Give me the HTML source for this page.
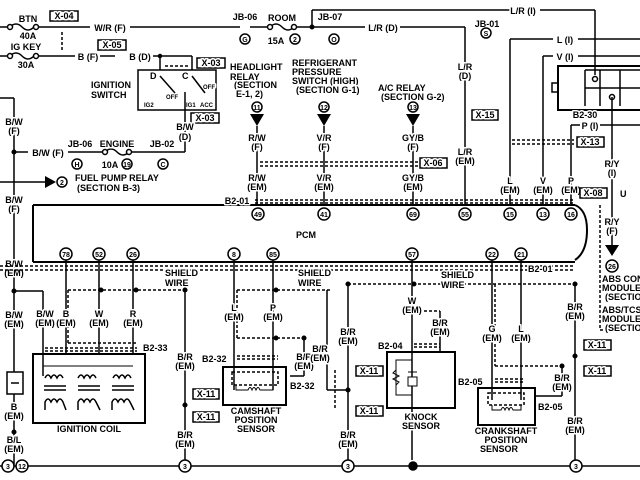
<!DOCTYPE html>
<html><head><meta charset="utf-8"><style>
html,body{margin:0;padding:0;background:#fff;width:640px;height:480px;overflow:hidden}
svg{display:block}
text{font-family:"Liberation Sans",sans-serif;font-size:9px;fill:#000;font-weight:bold;paint-order:stroke;stroke:#fff;stroke-width:3px;stroke-linejoin:round}
text[style*="font-size:7px"]{stroke:none}
.c{text-anchor:middle}
line,path,rect,circle,polyline{stroke:#000;fill:none;stroke-width:1.5}
.d{stroke-dasharray:3,2}
.f{fill:#000}
.w{fill:#fff}
</style></head><body>
<svg width="640" height="480" viewBox="0 0 640 480">
<line x1="0" y1="27" x2="10" y2="27"/><path d="M10 27 q6 -6 12 0 q6 6 12 0"/><circle cx="10" cy="27" r="2.5" class="w"/><circle cx="36" cy="27" r="2.5" class="w"/>
<line x1="38" y1="27" x2="90" y2="27"/><line x1="130" y1="27" x2="240" y2="27"/>
<text x="28" y="22" class="c">BTN</text><text x="28" y="39" class="c">40A</text>
<rect x="50" y="11" width="28" height="10"/><text x="64" y="19" class="c">X-04</text>
<text x="110" y="31" class="c">W/R (F)</text>
<line x1="62" y1="32" x2="62" y2="52" class="d"/>
<line x1="0" y1="56" x2="10" y2="56"/><path d="M10 56 q6 -6 12 0 q6 6 12 0"/><circle cx="10" cy="56" r="2.5" class="w"/><circle cx="36" cy="56" r="2.5" class="w"/>
<line x1="38" y1="56" x2="75" y2="56"/><text x="26" y="50" class="c">IG KEY</text><text x="26" y="68" class="c">30A</text>
<text x="88" y="60" class="c">B (F)</text><line x1="100" y1="56" x2="115" y2="56"/>
<rect x="98" y="40" width="28" height="10"/><text x="112" y="48" class="c">X-05</text>
<text x="140" y="60" class="c">B (D)</text><line x1="153" y1="56" x2="160" y2="56"/><circle cx="160" cy="56" r="1.5" class="f"/>
<line x1="160" y1="56" x2="160" y2="70"/><line x1="160" y1="56" x2="192" y2="56"/><line x1="192" y1="56" x2="192" y2="70"/>
<line x1="165" y1="66" x2="190" y2="66" class="d"/>
<rect x="197" y="58" width="28" height="10"/><text x="211" y="66" class="c">X-03</text>
<rect x="138" y="70" width="78" height="40"/>
<text x="150" y="79">D</text><text x="182" y="79">C</text><text x="91" y="88">IGNITION</text><text x="91" y="98">SWITCH</text>
<text x="166" y="99" style="font-size:6px">OFF</text><text x="203" y="89" style="font-size:6px">OFF</text>
<text x="144" y="107" style="font-size:6px">IG2</text><text x="186" y="107" style="font-size:6px">IG1</text><text x="200" y="107" style="font-size:6px">ACC</text>
<line x1="160" y1="76" x2="175" y2="93"/><line x1="192" y1="76" x2="205" y2="93"/><line x1="185" y1="92" x2="185" y2="110"/>
<line x1="185" y1="110" x2="185" y2="152"/><line x1="185" y1="152" x2="163" y2="152"/>
<rect x="191" y="113" width="28" height="10"/><text x="205" y="121" class="c">X-03</text>
<text x="185" y="130" class="c">B/W</text><text x="185" y="140" class="c">(D)</text>
<line x1="14" y1="152" x2="28" y2="152"/><text x="48" y="156" class="c">B/W (F)</text>
<line x1="68" y1="152" x2="105" y2="152"/><path d="M105 152 q6 -6 12 0 q6 6 12 0"/><circle cx="105" cy="152" r="2.5" class="w"/><circle cx="129" cy="152" r="2.5" class="w"/>
<line x1="131" y1="152" x2="163" y2="152"/>
<text x="80" y="147" class="c">JB-06</text><text x="117" y="147" class="c">ENGINE</text><text x="162" y="147" class="c">JB-02</text>
<circle cx="77" cy="164" r="5"/><text x="77" y="167" class="c" style="font-size:7px">H</text>
<text x="110" y="168" class="c">10A</text><circle cx="127" cy="164" r="5"/><text x="127" y="167" class="c" style="font-size:7px">19</text>
<circle cx="163" cy="164" r="5"/><text x="163" y="167" class="c" style="font-size:7px">C</text>
<line x1="0" y1="98" x2="14" y2="98"/><line x1="14" y1="98" x2="14" y2="466"/><circle cx="14" cy="152" r="1.8" class="f"/>
<text x="14" y="125" class="c">B/W</text><text x="14" y="134" class="c">(F)</text>
<text x="14" y="203" class="c">B/W</text><text x="14" y="212" class="c">(F)</text>
<line x1="0" y1="182" x2="45" y2="182"/><polygon points="45,176 56,182 45,188" class="f"/>
<circle cx="62" cy="182" r="5"/><text x="62" y="185" class="c" style="font-size:7px">2</text>
<text x="75" y="181">FUEL PUMP RELAY</text><text x="77" y="191">(SECTION B-3)</text>
<text x="14" y="267" class="c">B/W</text><text x="14" y="276" class="c">(EM)</text>
<line x1="14" y1="291" x2="43" y2="291"/><line x1="43" y1="291" x2="43" y2="365"/><circle cx="14" cy="291" r="1.8" class="f"/>
<text x="14" y="318" class="c">B/W</text><text x="14" y="327" class="c">(EM)</text>
<rect x="7" y="372" width="16" height="22" class="w"/><line x1="11" y1="383" x2="19" y2="383"/>
<text x="14" y="410" class="c">B</text><text x="14" y="419" class="c">(EM)</text>
<circle cx="14" cy="432" r="1.8" class="f"/>
<text x="14" y="443" class="c">B/L</text><text x="14" y="452" class="c">(EM)</text>
<line x1="0" y1="466" x2="640" y2="466"/>
<circle cx="8" cy="466" r="6" class="w"/><text x="8" y="469" class="c" style="font-size:7px">3</text>
<circle cx="22" cy="466" r="6" class="w"/><text x="22" y="469" class="c" style="font-size:7px">12</text>
<circle cx="185" cy="466" r="6" class="w"/><text x="185" y="469" class="c" style="font-size:7px">3</text>
<circle cx="348" cy="466" r="6" class="w"/><text x="348" y="469" class="c" style="font-size:7px">3</text>
<circle cx="413" cy="466" r="4" class="f"/>
<circle cx="576" cy="466" r="6" class="w"/><text x="576" y="469" class="c" style="font-size:7px">3</text>
<text x="245" y="20" class="c">JB-06</text><circle cx="245" cy="39" r="5"/><text x="245" y="42" class="c" style="font-size:7px">G</text>
<line x1="250" y1="27" x2="270" y2="27"/><path d="M270 27 q6 -6 12 0 q6 6 12 0"/><circle cx="270" cy="27" r="2.5" class="w"/><circle cx="294" cy="27" r="2.5" class="w"/>
<text x="282" y="21" class="c">ROOM</text><text x="276" y="44" class="c">15A</text><circle cx="295" cy="39" r="5"/><text x="295" y="42" class="c" style="font-size:7px">2</text>
<line x1="296" y1="27" x2="312" y2="27"/><line x1="312" y1="10" x2="312" y2="27"/><line x1="312" y1="10" x2="325" y2="10"/><circle cx="312" cy="27" r="1.8" class="f"/>
<line x1="312" y1="27" x2="365" y2="27"/><text x="330" y="20" class="c">JB-07</text><circle cx="334" cy="39" r="5"/><text x="334" y="42" class="c" style="font-size:7px">O</text>
<text x="383" y="31" class="c">L/R (D)</text><line x1="400" y1="27" x2="465" y2="27"/><line x1="465" y1="27" x2="465" y2="205"/>
<line x1="325" y1="10" x2="510" y2="10"/><text x="523" y="14" class="c">L/R (I)</text><line x1="540" y1="10" x2="595" y2="10"/><line x1="595" y1="10" x2="595" y2="75"/>
<text x="487" y="27" class="c">JB-01</text><circle cx="486" cy="33" r="5"/><text x="486" y="36" class="c" style="font-size:7px">S</text>
<text x="465" y="70" class="c">L/R</text><text x="465" y="79" class="c">(D)</text>
<rect x="472" y="110" width="26" height="10"/><text x="485" y="118" class="c">X-15</text>
<text x="465" y="155" class="c">L/R</text><text x="465" y="164" class="c">(EM)</text>
<text x="230" y="70">HEADLIGHT</text><text x="230" y="80">RELAY</text><text x="234" y="88">(SECTION</text><text x="236" y="97">E-1, 2)</text>
<text x="292" y="66">REFRIGERANT</text><text x="292" y="75">PRESSURE</text><text x="292" y="84">SWITCH (HIGH)</text><text x="296" y="93">(SECTION G-1)</text>
<text x="378" y="91">A/C RELAY</text><text x="381" y="100">(SECTION G-2)</text>
<circle cx="257" cy="107" r="5"/><text x="257" y="110" class="c" style="font-size:7px">11</text><polygon points="250,114 264,114 257,126" class="f"/><line x1="257" y1="126" x2="257" y2="205"/>
<circle cx="324" cy="107" r="5"/><text x="324" y="110" class="c" style="font-size:7px">12</text><polygon points="317,114 331,114 324,126" class="f"/><line x1="324" y1="126" x2="324" y2="205"/>
<circle cx="413" cy="107" r="5"/><text x="413" y="110" class="c" style="font-size:7px">13</text><polygon points="406,114 420,114 413,126" class="f"/><line x1="413" y1="126" x2="413" y2="205"/>
<line x1="260" y1="162" x2="418" y2="162" class="d"/><line x1="260" y1="166" x2="418" y2="166" class="d"/>
<text x="257" y="141" class="c">R/W</text><text x="257" y="150" class="c">(F)</text><text x="257" y="181" class="c">R/W</text><text x="257" y="190" class="c">(EM)</text>
<text x="324" y="141" class="c">V/R</text><text x="324" y="150" class="c">(F)</text><text x="324" y="181" class="c">V/R</text><text x="324" y="190" class="c">(EM)</text>
<text x="413" y="141" class="c">GY/B</text><text x="413" y="150" class="c">(F)</text><text x="413" y="181" class="c">GY/B</text><text x="413" y="190" class="c">(EM)</text>
<rect x="420" y="158" width="27" height="10" class="w"/><text x="433" y="166" class="c">X-06</text>
<line x1="510" y1="39" x2="553" y2="39"/><line x1="510" y1="39" x2="510" y2="205"/><text x="565" y="43" class="c">L (I)</text><line x1="578" y1="39" x2="640" y2="39"/>
<line x1="543" y1="56" x2="553" y2="56"/><line x1="543" y1="56" x2="543" y2="205"/><text x="565" y="60" class="c">V (I)</text><line x1="578" y1="56" x2="640" y2="56"/>
<rect x="558" y="66" width="90" height="44" style="stroke-width:2"/><line x1="585" y1="70" x2="640" y2="70"/><line x1="585" y1="70" x2="585" y2="106"/><line x1="585" y1="88" x2="640" y2="88"/>
<line x1="600" y1="70" x2="600" y2="106"/><line x1="620" y1="70" x2="620" y2="106"/><rect x="552" y="83" width="6" height="9"/>
<circle cx="595" cy="79" r="2.5"/><circle cx="612" cy="97" r="2.5"/><line x1="612" y1="97" x2="612" y2="245"/>
<text x="585" y="118" class="c">B2-30</text>
<line x1="571" y1="125" x2="580" y2="125"/><line x1="571" y1="125" x2="571" y2="205"/><text x="590" y="129" class="c">P (I)</text><line x1="600" y1="125" x2="640" y2="125"/>
<line x1="512" y1="140" x2="574" y2="140" class="d"/><line x1="512" y1="144" x2="574" y2="144" class="d"/>
<rect x="577" y="137" width="27" height="10" class="w"/><text x="590" y="145" class="c">X-13</text>
<text x="510" y="184" class="c">L</text><text x="510" y="193" class="c">(EM)</text>
<text x="543" y="184" class="c">V</text><text x="543" y="193" class="c">(EM)</text>
<text x="571" y="184" class="c">P</text><text x="571" y="193" class="c">(EM)</text>
<rect x="580" y="188" width="27" height="10" class="w"/><text x="593" y="196" class="c">X-08</text><text x="620" y="197">U</text>
<text x="612" y="167" class="c">R/Y</text><text x="612" y="176" class="c">(I)</text>
<text x="612" y="225" class="c">R/Y</text><text x="612" y="234" class="c">(F)</text>
<path d="M600 205 L600 330 L640 330" class="d"/>
<polygon points="605,245 619,245 612,256" class="f"/><circle cx="612" cy="266" r="6"/><text x="612" y="269" class="c" style="font-size:7px">26</text>
<text x="602" y="282">ABS CON</text><text x="602" y="291">MODULE</text><text x="605" y="300">(SECTIO</text>
<text x="602" y="313">ABS/TCS</text><text x="602" y="322">MODULE</text><text x="605" y="331">(SECTIO</text>
<line x1="33" y1="205" x2="575" y2="205" style="stroke-width:2"/><line x1="33" y1="205" x2="33" y2="262" style="stroke-width:2"/><line x1="33" y1="262" x2="575" y2="262" style="stroke-width:2"/>
<path d="M575 205 q12 5 12 25 q0 22 -12 30" style="stroke-width:2"/>
<line x1="255" y1="200" x2="575" y2="200" class="d"/><line x1="255" y1="203" x2="575" y2="203" class="d"/>
<text x="237" y="204" class="c">B2-01</text><text x="306" y="238" class="c">PCM</text>
<circle cx="258" cy="214" r="6"/><text x="258" y="217" class="c" style="font-size:7px">49</text>
<circle cx="324" cy="214" r="6"/><text x="324" y="217" class="c" style="font-size:7px">41</text>
<circle cx="413" cy="214" r="6"/><text x="413" y="217" class="c" style="font-size:7px">69</text>
<circle cx="465" cy="214" r="6"/><text x="465" y="217" class="c" style="font-size:7px">55</text>
<circle cx="510" cy="214" r="6"/><text x="510" y="217" class="c" style="font-size:7px">15</text>
<circle cx="543" cy="214" r="6"/><text x="543" y="217" class="c" style="font-size:7px">13</text>
<circle cx="571" cy="214" r="6"/><text x="571" y="217" class="c" style="font-size:7px">16</text>
<circle cx="66" cy="254" r="6"/><text x="66" y="257" class="c" style="font-size:7px">78</text>
<circle cx="99" cy="254" r="6"/><text x="99" y="257" class="c" style="font-size:7px">52</text>
<circle cx="133" cy="254" r="6"/><text x="133" y="257" class="c" style="font-size:7px">26</text>
<circle cx="234" cy="254" r="6"/><text x="234" y="257" class="c" style="font-size:7px">8</text>
<circle cx="273" cy="254" r="6"/><text x="273" y="257" class="c" style="font-size:7px">85</text>
<circle cx="412" cy="254" r="6"/><text x="412" y="257" class="c" style="font-size:7px">57</text>
<circle cx="492" cy="254" r="6"/><text x="492" y="257" class="c" style="font-size:7px">22</text>
<circle cx="521" cy="254" r="6"/><text x="521" y="257" class="c" style="font-size:7px">21</text>
<line x1="0" y1="266" x2="575" y2="266" class="d"/><line x1="0" y1="270" x2="575" y2="270" class="d"/>
<text x="528" y="272">B2-01</text>
<line x1="66" y1="260" x2="66" y2="354"/><line x1="99" y1="260" x2="99" y2="354"/><line x1="133" y1="260" x2="133" y2="354"/>
<line x1="68" y1="290" x2="185" y2="290" class="d"/><line x1="68" y1="290" x2="68" y2="343" class="d"/><line x1="68" y1="343" x2="137" y2="343" class="d"/>
<circle cx="101" cy="290" r="1.8" class="f"/><circle cx="136" cy="290" r="1.8" class="f"/><circle cx="185" cy="290" r="1.8" class="f"/>
<text x="165" y="276">SHIELD</text><text x="165" y="286">WIRE</text>
<text x="45" y="317" class="c">B/W</text><text x="45" y="326" class="c">(EM)</text>
<text x="66" y="317" class="c">B</text><text x="66" y="326" class="c">(EM)</text>
<text x="99" y="317" class="c">W</text><text x="99" y="326" class="c">(EM)</text>
<text x="133" y="317" class="c">R</text><text x="133" y="326" class="c">(EM)</text>
<line x1="45" y1="348" x2="137" y2="348" class="d"/><line x1="45" y1="351" x2="137" y2="351" class="d"/>
<text x="143" y="351">B2-33</text>
<rect x="33" y="354" width="112" height="69" style="stroke-width:2"/>
<line x1="43" y1="365" x2="43" y2="376"/><line x1="43" y1="366" x2="133" y2="366" style="stroke-width:1"/>
<g style="stroke-width:1">
<path d="M45 378 q3 -6 6 0 q3 -6 6 0 q3 -6 6 0"/><path d="M78 378 q3 -6 6 0 q3 -6 6 0 q3 -6 6 0"/><path d="M113 378 q3 -6 6 0 q3 -6 6 0 q3 -6 6 0"/>
<line x1="44" y1="386" x2="66" y2="386"/><line x1="78" y1="386" x2="100" y2="386"/><line x1="112" y1="386" x2="134" y2="386"/>
<line x1="44" y1="390" x2="66" y2="390"/><line x1="78" y1="390" x2="100" y2="390"/><line x1="112" y1="390" x2="134" y2="390"/>
<path d="M45 410 L45 402 q3 -6 6 0 q3 -6 6 0 q3 -6 6 0 L66 410"/><path d="M78 410 L78 402 q3 -6 6 0 q3 -6 6 0 q3 -6 6 0 L100 410"/><path d="M112 410 L112 402 q3 -6 6 0 q3 -6 6 0 q3 -6 6 0 L134 410"/>
</g>
<text x="89" y="432" class="c">IGNITION COIL</text>
<line x1="185" y1="290" x2="185" y2="460"/>
<text x="185" y="360" class="c">B/R</text><text x="185" y="369" class="c">(EM)</text>
<rect x="193" y="389" width="26" height="10"/><text x="206" y="397" class="c">X-11</text><circle cx="185" cy="405" r="1.8" class="f"/>
<rect x="193" y="412" width="26" height="10"/><text x="206" y="420" class="c">X-11</text>
<text x="185" y="438" class="c">B/R</text><text x="185" y="447" class="c">(EM)</text>
<line x1="234" y1="260" x2="234" y2="390"/><line x1="273" y1="260" x2="273" y2="390"/>
<line x1="237" y1="290" x2="330" y2="290" class="d"/><line x1="237" y1="290" x2="237" y2="338" class="d"/><line x1="237" y1="338" x2="304" y2="338" class="d"/>
<circle cx="276" cy="290" r="1.8" class="f"/><circle cx="276" cy="338" r="1.8" class="f"/><circle cx="304" cy="338" r="1.8" class="f"/>
<text x="298" y="276">SHIELD</text><text x="298" y="286">WIRE</text>
<text x="234" y="311" class="c">L</text><text x="234" y="320" class="c">(EM)</text><text x="273" y="311" class="c">P</text><text x="273" y="320" class="c">(EM)</text>
<line x1="304" y1="338" x2="304" y2="376"/><line x1="304" y1="376" x2="290" y2="376"/>
<text x="304" y="360" class="c">B/R</text><text x="304" y="369" class="c">(EM)</text>
<text x="202" y="362">B2-32</text><text x="290" y="389">B2-32</text>
<line x1="237" y1="356" x2="278" y2="356" class="d"/><line x1="237" y1="359" x2="278" y2="359" class="d"/>
<rect x="223" y="367" width="63" height="38" style="stroke-width:2"/>
<rect x="232" y="372" width="46" height="13" class="d"/>
<path d="M236 385 L236 390 L248 390 q2 -5 4 0 q2 -5 4 0 q2 -5 4 0 L273 390 L273 385" style="stroke-width:1"/>
<text x="256" y="414" class="c">CAMSHAFT</text><text x="256" y="423" class="c">POSITION</text><text x="256" y="432" class="c">SENSOR</text>
<line x1="348" y1="284" x2="348" y2="460"/><circle cx="348" cy="284" r="1.8" class="f"/><line x1="348" y1="284" x2="575" y2="284" class="d"/>
<text x="348" y="335" class="c">B/R</text><text x="348" y="344" class="c">(EM)</text>
<rect x="356" y="366" width="27" height="10"/><text x="369" y="374" class="c">X-11</text>
<rect x="356" y="406" width="27" height="10"/><text x="369" y="414" class="c">X-11</text>
<text x="348" y="438" class="c">B/R</text><text x="348" y="447" class="c">(EM)</text>
<line x1="327" y1="290" x2="327" y2="390"/><line x1="327" y1="390" x2="348" y2="390"/><circle cx="348" cy="390" r="1.8" class="f"/>
<path d="M335 370 L335 410" class="d"/>
<text x="320" y="352" class="c">B/R</text><text x="320" y="361" class="c">(EM)</text>
<line x1="412" y1="260" x2="412" y2="460"/><circle cx="414" cy="284" r="1.8" class="f"/>
<line x1="414" y1="311" x2="440" y2="311" class="d"/><line x1="440" y1="311" x2="440" y2="360"/>
<text x="441" y="278">SHIELD</text><text x="441" y="288">WIRE</text>
<text x="412" y="304" class="c">W</text><text x="412" y="313" class="c">(EM)</text>
<text x="440" y="326" class="c">B/R</text><text x="440" y="335" class="c">(EM)</text>
<text x="378" y="349">B2-04</text>
<line x1="414" y1="344" x2="440" y2="344" class="d"/><line x1="414" y1="347" x2="440" y2="347" class="d"/>
<rect x="387" y="352" width="68" height="56" class="w" style="stroke-width:2"/>
<line x1="412" y1="352" x2="412" y2="408"/>
<path d="M412 360 L396 360 L396 395 L412 395" style="stroke-width:1"/><path d="M396 370 l-3 3 l6 3 l-6 3 l6 3 l-3 3" style="stroke-width:1"/>
<rect x="408" y="377" width="9" height="9" class="w" style="stroke-width:1"/><line x1="408" y1="372" x2="417" y2="372" style="stroke-width:1"/>
<text x="421" y="420" class="c">KNOCK</text><text x="421" y="429" class="c">SENSOR</text>
<line x1="492" y1="260" x2="492" y2="400"/><line x1="521" y1="260" x2="521" y2="400"/>
<line x1="495" y1="366" x2="565" y2="366" class="d"/><line x1="495" y1="284" x2="495" y2="366" class="d"/><circle cx="562" cy="366" r="1.8" class="f"/>
<text x="492" y="332" class="c">G</text><text x="492" y="341" class="c">(EM)</text><text x="521" y="332" class="c">L</text><text x="521" y="341" class="c">(EM)</text>
<text x="458" y="385">B2-05</text><line x1="495" y1="379" x2="525" y2="379" class="d"/><line x1="495" y1="382" x2="525" y2="382" class="d"/>
<rect x="478" y="388" width="57" height="37" style="stroke-width:2"/><rect x="488" y="393" width="36" height="12" class="d"/>
<path d="M492 405 L492 410 L501 410 q2 -5 4 0 q2 -5 4 0 q2 -5 4 0 L521 410 L521 405" style="stroke-width:1"/>
<line x1="562" y1="366" x2="562" y2="396"/><line x1="562" y1="396" x2="536" y2="396"/>
<text x="562" y="381" class="c">B/R</text><text x="562" y="390" class="c">(EM)</text><text x="538" y="410">B2-05</text>
<text x="506" y="434" class="c">CRANKSHAFT</text><text x="506" y="443" class="c">POSITION</text><text x="499" y="452" class="c">SENSOR</text>
<line x1="575" y1="284" x2="575" y2="460"/><circle cx="575" cy="284" r="1.8" class="f"/><circle cx="575" cy="356" r="1.8" class="f"/>
<text x="575" y="310" class="c">B/R</text><text x="575" y="319" class="c">(EM)</text>
<rect x="584" y="340" width="27" height="10"/><text x="597" y="348" class="c">X-11</text>
<rect x="584" y="366" width="27" height="10"/><text x="597" y="374" class="c">X-11</text>
<text x="575" y="424" class="c">B/R</text><text x="575" y="433" class="c">(EM)</text>
</svg>
</body></html>
